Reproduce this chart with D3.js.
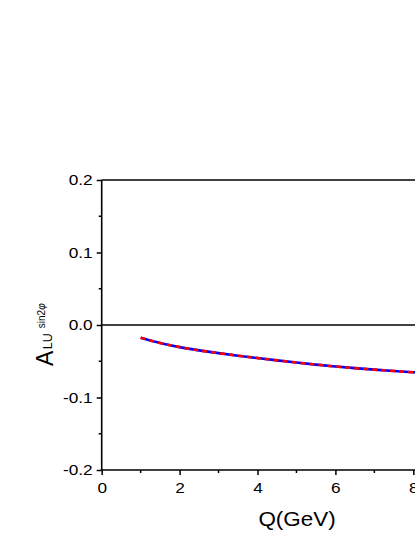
<!DOCTYPE html>
<html><head><meta charset="utf-8">
<script src="https://cdn.jsdelivr.net/npm/d3@7"></script>
<style>
html,body{margin:0;padding:0;background:#fff;overflow:hidden;}
svg{display:block;font-family:Arial,"Liberation Sans",sans-serif;}
</style></head>
<body>
<svg id="chart" width="415" height="537"></svg>
<script>
const qValues = [1, 1.5, 2, 2.5, 3, 3.5, 4, 4.5, 5, 5.5, 6, 6.5, 7, 7.5, 8, 9, 10];
const blueSeries = [-0.0175, -0.0248, -0.0305, -0.0350, -0.0388, -0.0423, -0.0456, -0.0488, -0.0518, -0.0546, -0.0572, -0.0595, -0.0616, -0.0635, -0.0652, -0.0680, -0.0703];
const redSeries  = [-0.0175, -0.0248, -0.0305, -0.0350, -0.0388, -0.0423, -0.0456, -0.0488, -0.0518, -0.0546, -0.0572, -0.0595, -0.0616, -0.0635, -0.0652, -0.0680, -0.0703];
const xTicks = [0, 2, 4, 6, 8, 10];
const xMinorTicks = [1, 3, 5, 7, 9];
const yTicks = [-0.2, -0.1, 0.0, 0.1, 0.2];
const yMinorTicks = [-0.15, -0.05, 0.05, 0.15];

const svg = d3.select("#chart");
const x = d3.scaleLinear().domain([0, 10]).range([101.7, 491.2]);
const y = d3.scaleLinear().domain([-0.2, 0.2]).range([470, 180]);

const g = svg.append("g");

svg.append("clipPath").attr("id","clip").append("rect")
  .attr("x", x(0)).attr("y", y(0.2)).attr("width", x(10)-x(0)).attr("height", y(-0.2)-y(0.2));

const fmtY = d => d3.format(".1f")(d).replace("\u2212", "-");

// bottom axis
const xAxis = d3.axisBottom(x).tickValues(xTicks).tickFormat(d3.format("d")).tickSize(5).tickPadding(7);
const gx = g.append("g").attr("transform", `translate(0,${y(-0.2)})`).call(xAxis);
gx.append("g").selectAll("line").data(xMinorTicks).join("line")
  .attr("x1", d => x(d)).attr("x2", d => x(d)).attr("y1", 0).attr("y2", 3)
  .attr("stroke", "#000").attr("stroke-width", 1.5);

// left axis
const yAxis = d3.axisLeft(y).tickValues(yTicks).tickFormat(fmtY).tickSize(5).tickPadding(4);
const gy = g.append("g").attr("transform", `translate(${x(0)},0)`).call(yAxis);
gy.append("g").selectAll("line").data(yMinorTicks).join("line")
  .attr("x1", 0).attr("x2", -3).attr("y1", d => y(d)).attr("y2", d => y(d))
  .attr("stroke", "#000").attr("stroke-width", 1.5);

[gx, gy].forEach(a => {
  a.attr("font-size", 15).attr("font-family", "Arial, 'Liberation Sans', sans-serif");
  a.select(".domain").attr("stroke", "#000").attr("stroke-width", 1.6);
  a.selectAll(".tick line").attr("stroke", "#000").attr("stroke-width", 1.5);
  a.selectAll(".tick text").attr("font-size", 15).attr("fill", "#000");
});
// slight horizontal stretch like the reference glyphs
gx.selectAll(".tick text").attr("transform", "scale(1.15,1)");
gy.selectAll(".tick text").each(function(){
  const t = d3.select(this);
  const xx = +t.attr("x");
  t.attr("x", 0).attr("transform", `translate(${xx},0) scale(1.15,1)`);
});
gx.select(".domain").attr("d", `M${x(0)},0H${x(10)}`);
gy.select(".domain").attr("d", `M0,${y(-0.2)}V${y(0.2)}`);

// top frame line
g.append("line").attr("x1", x(0)).attr("x2", x(10)).attr("y1", y(0.2)).attr("y2", y(0.2))
  .attr("stroke", "#000").attr("stroke-width", 1.6);
// zero line
g.append("line").attr("x1", x(0)).attr("x2", x(10)).attr("y1", y(0)).attr("y2", y(0))
  .attr("stroke", "#000").attr("stroke-width", 1.4);

const line = d3.line().x(d => x(d[0])).y(d => y(d[1])).curve(d3.curveMonotoneX);
const cg = g.append("g").attr("clip-path", "url(#clip)");
cg.append("path").datum(qValues.map((q,i)=>[q, blueSeries[i]]))
  .attr("d", line).attr("fill","none").attr("stroke","#0000ff").attr("stroke-width",2.6);
cg.append("path").datum(qValues.map((q,i)=>[q, redSeries[i]]))
  .attr("d", line).attr("fill","none").attr("stroke","#ff0000").attr("stroke-width",2.6)
  .attr("stroke-dasharray","5,4");

// x label
svg.append("text").attr("transform", "translate(297,526) scale(1.15,1)").attr("text-anchor","middle")
  .attr("font-size", 19.5).attr("fill","#000").text("Q(GeV)");

// y label
const yl = svg.append("text").attr("transform", "translate(53,366) rotate(-90)")
  .attr("fill","#000");
yl.append("tspan").attr("font-size", 23).text("A");
yl.append("tspan").attr("font-size", 12.5).attr("dy", -1).attr("dx", 1.5).text("LU");
yl.append("tspan").attr("font-size", 10).attr("dy", -7.3).attr("dx", 5).text("sin2");
yl.append("tspan").attr("font-size", 10).attr("font-style","italic").text("φ");
</script>
</body></html>
